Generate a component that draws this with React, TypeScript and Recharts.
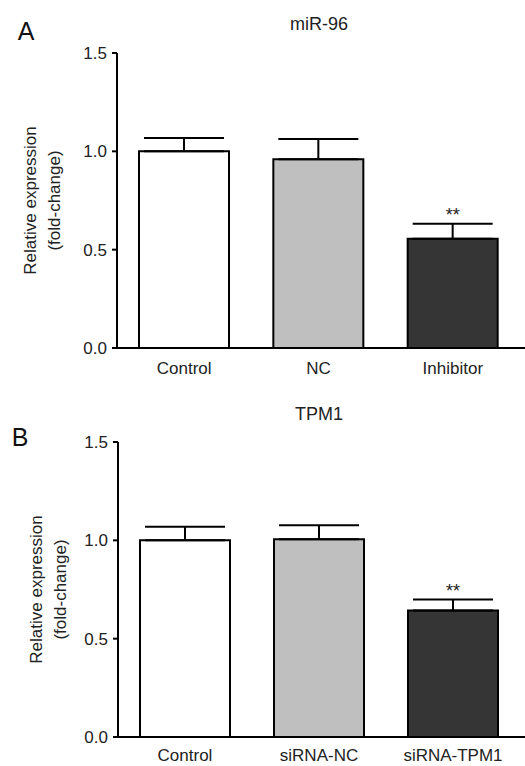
import { BarChart, Bar, XAxis, YAxis, Cell, ErrorBar, LabelList } from "recharts";

// panel A: miR-96
const catsA = ["Control", "NC", "Inhibitor"];
const valsA = [1.0, 0.96, 0.555];
const errsA = [0.068, 0.103, 0.077];
const sigA = ["", "", "**"];

// panel B: TPM1
const catsB = ["Control", "siRNA-NC", "siRNA-TPM1"];
const valsB = [1.0, 1.005, 0.643];
const errsB = [0.069, 0.072, 0.056];
const sigB = ["", "", "**"];

const yTicks = [0, 0.5, 1.0, 1.5];
const BAR_FILLS = ["#ffffff", "#bfbfbf", "#353535"];
const FONT = "'Liberation Sans', Arial, Helvetica, sans-serif";

interface PanelProps {
  letter: string;
  title: string;
  cats: string[];
  vals: number[];
  errs: number[];
  sig: string[];
  top: number;
  margin: { top: number; right: number; bottom: number; left: number };
  letterPos: [number, number];
  titleY: number;
  labelX: number;
  catMargin: number;
}

function Panel(p: PanelProps) {
  const data = p.cats.map((c, i) => ({ name: c, value: p.vals[i], err: [0, p.errs[i]] }));
  const H = 383;
  const plotCenter = p.margin.top + (H - p.margin.top - p.margin.bottom - 30) / 2;

  // significance stars sit just above the error bar cap
  const renderSig = (props: any) => {
    const { x, y, width, height, value, index } = props;
    const s = p.sig[index];
    if (!s) return null;
    const pxPerUnit = height / value;
    const errTop = y - p.errs[index] * pxPerUnit;
    return (
      <text x={x + width / 2} y={errTop - 3} textAnchor="middle" fontSize={18} fontFamily={FONT} fill="#222">
        {s}
      </text>
    );
  };

  return (
    <div style={{ position: "absolute", left: 0, top: p.top, width: 525, height: H }}>
      <BarChart width={525} height={H} data={data} margin={p.margin}>
        <XAxis
          dataKey="name"
          height={30}
          padding={{ left: 0, right: 5 }}
          tickLine={false}
          tickSize={0}
          tickMargin={p.catMargin}
          axisLine={{ stroke: "#000", strokeWidth: 2 }}
          tick={{ fill: "#222", fontSize: 17, fontFamily: FONT }}
        />
        <YAxis
          domain={[0, 1.5]}
          ticks={yTicks}
          width={60}
          tickSize={5}
          tickMargin={5}
          tickFormatter={(v: number) => v.toFixed(1)}
          axisLine={{ stroke: "#000", strokeWidth: 2 }}
          tickLine={{ stroke: "#000", strokeWidth: 2 }}
          tick={{ fill: "#222", fontSize: 17, fontFamily: FONT }}
        />
        <Bar dataKey="value" barSize={90} stroke="#000" strokeWidth={2} isAnimationActive={false}>
          {data.map((d, i) => (
            <Cell key={d.name} fill={BAR_FILLS[i]} />
          ))}
          <ErrorBar dataKey="err" width={40} stroke="#000" strokeWidth={2} direction="y" />
          <LabelList dataKey="value" content={renderSig} />
        </Bar>
      </BarChart>
      <svg
        width={525}
        height={H}
        style={{ position: "absolute", left: 0, top: 0, pointerEvents: "none" }}
      >
        <text x={p.letterPos[0]} y={p.letterPos[1]} textAnchor="middle" fontSize={25} fontFamily={FONT} fill="#111">
          {p.letter}
        </text>
        <text x={319} y={p.titleY} textAnchor="middle" fontSize={18} fontFamily={FONT} fill="#222">
          {p.title}
        </text>
        <text
          transform={`translate(${p.labelX}, ${plotCenter}) rotate(-90)`}
          textAnchor="middle"
          fontSize={17}
          fontFamily={FONT}
          fill="#222"
        >
          <tspan x={0} y={0}>Relative expression</tspan>
          <tspan x={0} y={24}>(fold-change)</tspan>
        </text>
      </svg>
    </div>
  );
}

export default function App() {
  return (
    <div style={{ position: "absolute", left: 0, top: 0, width: 525, height: 766, background: "#fff" }}>
      <Panel
        letter="A"
        title="miR-96"
        cats={catsA}
        vals={valsA}
        errs={errsA}
        sig={sigA}
        top={0}
        margin={{ top: 53, right: 0, bottom: 5, left: 57 }}
        letterPos={[26, 40]}
        titleY={30}
        labelX={36}
        catMargin={14}
      />
      <Panel
        letter="B"
        title="TPM1"
        cats={catsB}
        vals={valsB}
        errs={errsB}
        sig={sigB}
        top={383}
        margin={{ top: 59, right: 0, bottom: -1, left: 58 }}
        letterPos={[20, 63]}
        titleY={37}
        labelX={42}
        catMargin={12}
      />
    </div>
  );
}
